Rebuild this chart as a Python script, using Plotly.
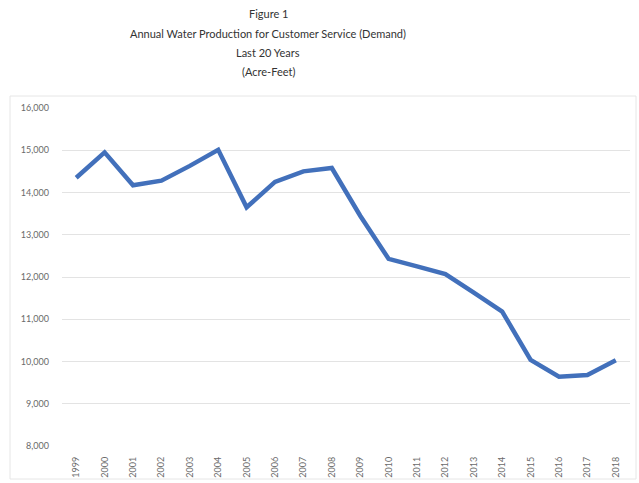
import plotly.graph_objects as go

years = [str(y) for y in range(1999, 2019)]
demand = [14350, 14950, 14170, 14280, 14630, 15010, 13650, 14250, 14500, 14580,
          13450, 12430, 12250, 12070, 11630, 11180, 10040, 9640, 9680, 10030]
y_ticks = list(range(8000, 16001, 1000))
title_lines = ["Figure 1", "Annual Water Production for Customer Service (Demand)",
               "Last 20 Years", "(Acre-Feet)"]

W, H = 639, 483
L, R, T, B = 62, 9, 108, 37
pw, ph = W - L - R, H - T - B

fig = go.Figure()
fig.add_trace(go.Scatter(x=years, y=demand, mode="lines",
                         line=dict(color="#4270BB", width=4.5), showlegend=False))

fig.update_layout(
    width=W, height=H,
    margin=dict(l=L, r=R, t=T, b=B, autoexpand=False),
    paper_bgcolor="white", plot_bgcolor="white",
    font=dict(family="Lato, Open Sans, sans-serif", color="#595959"),
    xaxis=dict(type="category", range=[-0.5, len(years) - 0.5], tickangle=-90,
               showgrid=False, showline=False, ticks="", automargin=False,
               tickfont=dict(size=9, color="#6a6a6a"), ticklabelstandoff=8),
    yaxis=dict(range=[8000, 16000], tickvals=y_ticks, tickformat=",", showgrid=True,
               gridcolor="#e3e3e3", gridwidth=1, zeroline=False, showline=False,
               automargin=False,
               tickfont=dict(size=9, color="#6a6a6a"), ticklabelstandoff=12),
)

# title lines
ys = [14, 33, 52, 71]
for i, (txt, yp) in enumerate(zip(title_lines, ys)):
    fig.add_annotation(text=txt, xref="paper", yref="paper",
                       x=(268 - L) / pw, y=(H - B - yp) / ph,
                       showarrow=False, xanchor="center", yanchor="middle",
                       font=dict(size=11, color="#333333",
                                 family="Lato, Open Sans, sans-serif"))

# chart border
fig.add_shape(type="rect", xref="paper", yref="paper",
              x0=(10 - L) / pw, x1=(636 - L) / pw,
              y0=(H - B - 479) / ph, y1=(H - B - 96) / ph,
              line=dict(color="#e6e6e6", width=1), layer="below")

fig.write_html("out.html")
